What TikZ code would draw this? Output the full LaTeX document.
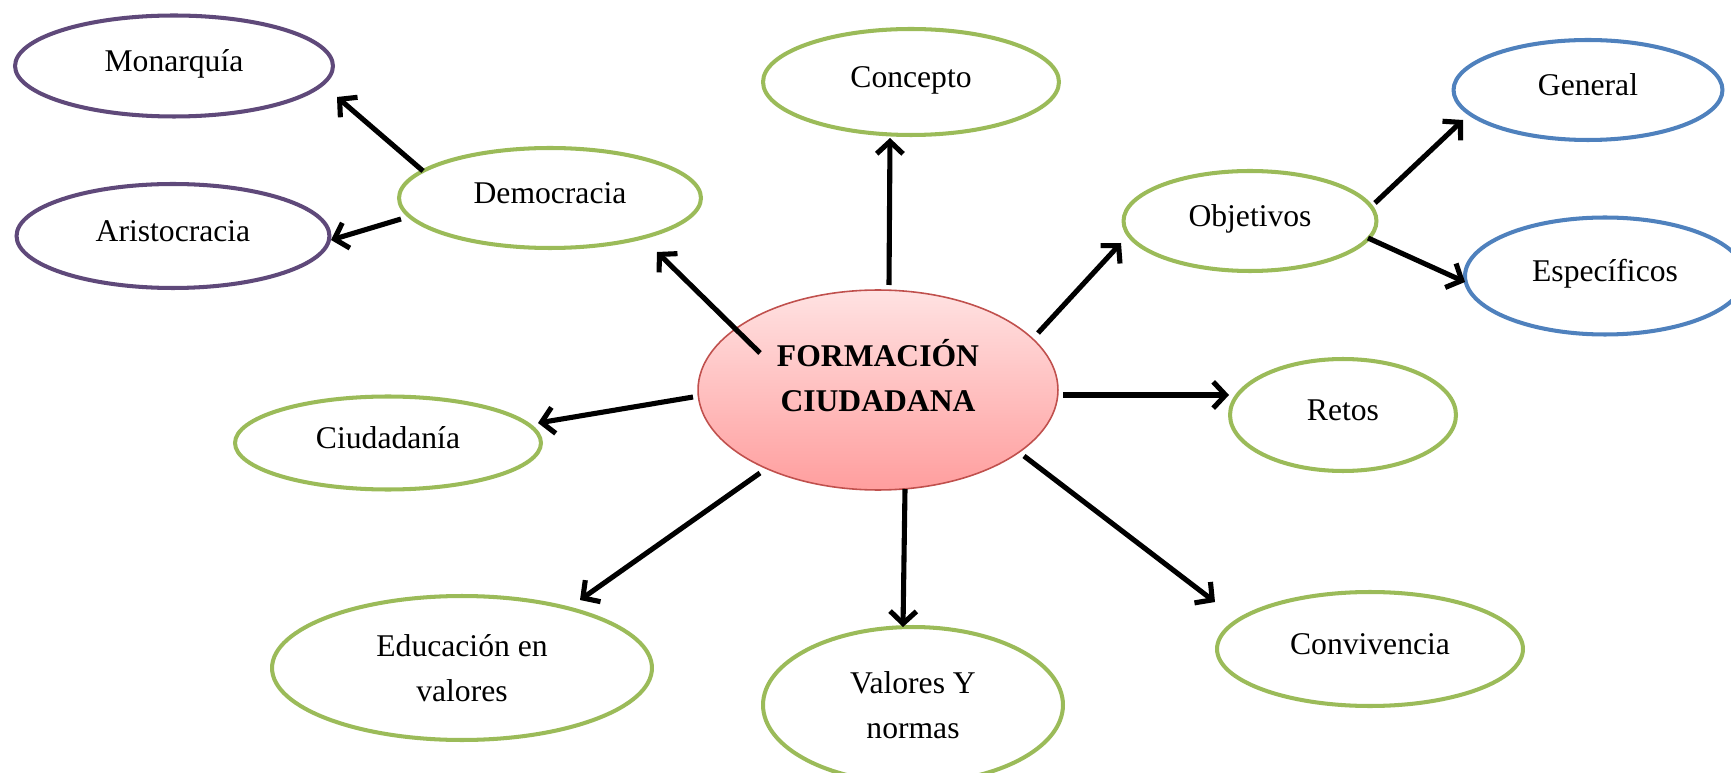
\documentclass[tikz,border=0pt]{standalone}
\usepackage{fontspec}
\setmainfont{Liberation Serif}
\usepackage{tikz}
\usetikzlibrary{shapes.geometric}
\usetikzlibrary{arrows.meta}
\usepackage{xcolor}
\definecolor{verde}{HTML}{9BBB59}
\definecolor{morado}{HTML}{5F497A}
\definecolor{azul}{HTML}{4F81BD}
\definecolor{rojo}{HTML}{C0504D}
\definecolor{rosaclaro}{HTML}{FFE2E2}
\definecolor{rosa}{HTML}{FF9E9E}

\begin{document}
\begin{tikzpicture}[x=0.02cm, y=-0.02cm,
	globo/.style={ellipse, draw, line width=2.3pt, inner sep=0pt, align=center, text depth=6pt, font=\fontsize{18pt}{25.5pt}\selectfont},
	rama/.style={globo, draw=verde},
	forma/.style={globo, draw=morado},
	objetivo/.style={globo, draw=azul},
	centro/.style={ellipse, draw=rojo, line width=0.9pt, top color=rosaclaro, bottom color=rosa, inner sep=0pt, align=center, text depth=17pt, font=\fontsize{18pt}{25.5pt}\selectfont\bfseries},
	flecha/.style={line width=2.9pt, -{Straight Barb[length=7pt,width=15pt]}}]
			\useasboundingbox (0,0) rectangle (1731,773);
			\node[centro, minimum width=7.2cm, minimum height=4cm] (fc) at (878,390) {FORMACIÓN\\CIUDADANA};
			\node[rama, minimum width=6.04cm, minimum height=2cm] (dem) at (550,198) {Democracia};
			\node[forma, minimum width=6.36cm, minimum height=2.02cm] (mon) at (174,66) {Monarquía};
			\node[forma, minimum width=6.26cm, minimum height=2.08cm] (ari) at (173,236) {Aristocracia};
			\node[rama, minimum width=5.92cm, minimum height=2.12cm] (con) at (911,82) {Concepto};
			\node[rama, minimum width=5.06cm, minimum height=2cm] (obj) at (1250,221) {Objetivos};
			\node[objetivo, minimum width=5.38cm, minimum height=2cm] (gen) at (1588,90) {General};
			\node[objetivo, minimum width=5.6cm, minimum height=2.34cm] (esp) at (1605,276) {Específicos};
			\node[rama, minimum width=4.52cm, minimum height=2.24cm] (ret) at (1343,415) {Retos};
			\node[rama, minimum width=6.12cm, minimum height=1.86cm] (ciu) at (388,443) {Ciudadanía};
			\node[rama, minimum width=7.6cm, minimum height=2.88cm, text depth={}] (edu) at (462,668) {Educación en\\valores};
			\node[rama, minimum width=6cm, minimum height=3.12cm, text depth={}] (val) at (913,705) {Valores Y\\normas};
			\node[rama, minimum width=6.12cm, minimum height=2.28cm] (conv) at (1370,649) {Convivencia};
			\draw[flecha] ([shift={(-118,-37)}]fc.center) -- ([shift={(107,54)}]dem.center);
			\draw[flecha] ([shift={(11,-105)}]fc.center) -- ([shift={(-21,56)}]con.center);
			\draw[flecha] ([shift={(160,-57)}]fc.center) -- ([shift={(-129,22)}]obj.center);
			\draw[flecha] ([shift={(185,5)}]fc.center) -- ([shift={(-114,-20)}]ret.center);
			\draw[flecha] ([shift={(146,66)}]fc.center) -- ([shift={(-155,-47)}]conv.center);
			\draw[flecha] ([shift={(27,99)}]fc.center) -- ([shift={(-10,-78)}]val.center);
			\draw[flecha] ([shift={(-118,83)}]fc.center) -- ([shift={(118,-68)}]edu.center);
			\draw[flecha] ([shift={(-185,7)}]fc.center) -- ([shift={(150,-20)}]ciu.center);
			\draw[flecha] ([shift={(-127,-27)}]dem.center) -- ([shift={(163,31)}]mon.center);
			\draw[flecha] ([shift={(-149,21)}]dem.center) -- ([shift={(158,4)}]ari.center);
			\draw[flecha] ([shift={(125,-18)}]obj.center) -- ([shift={(-125,30)}]gen.center);
			\draw[flecha] ([shift={(118,17)}]obj.center) -- ([shift={(-140,6)}]esp.center);
\end{tikzpicture}
\end{document}
